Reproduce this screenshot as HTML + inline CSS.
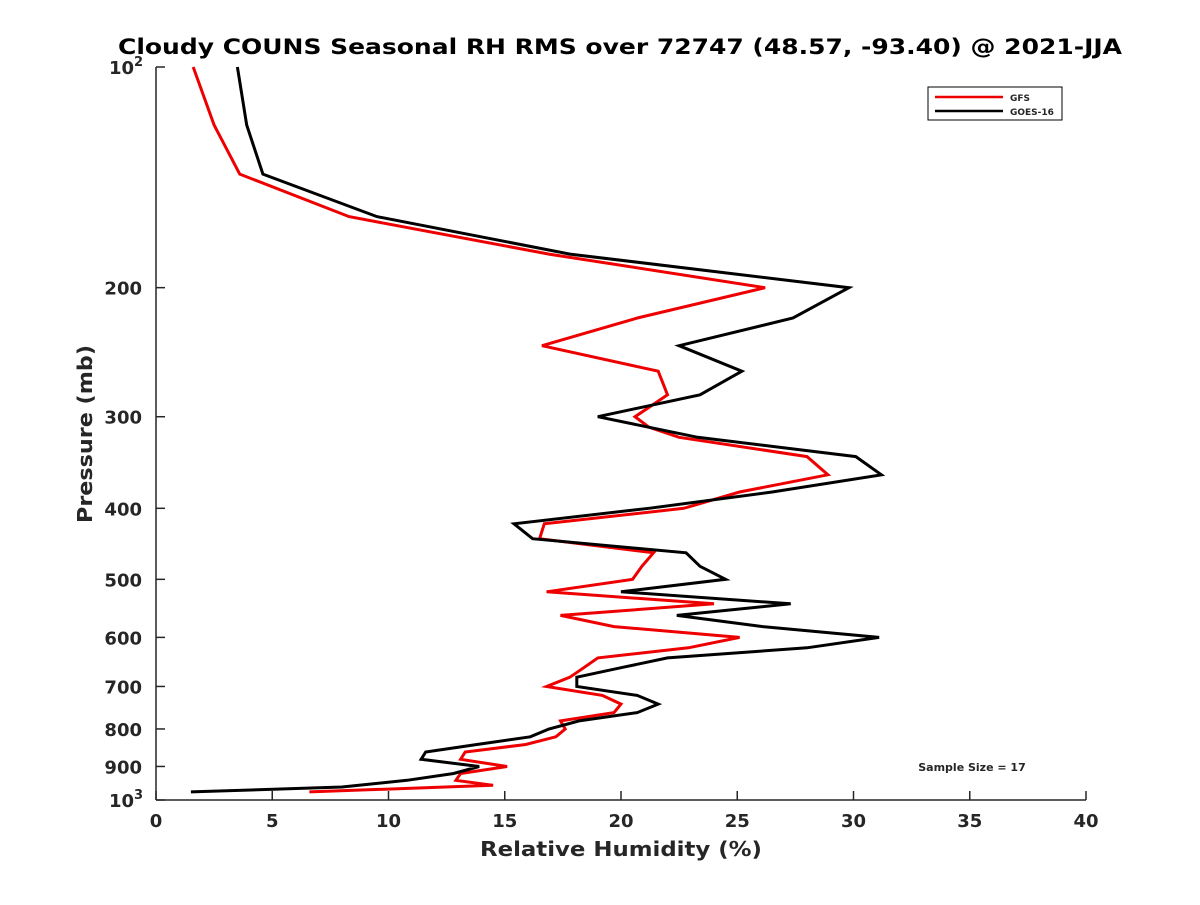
<!DOCTYPE html>
<html><head><meta charset="utf-8"><style>
body{margin:0;background:#fff;}
text{font-family:"DejaVu Sans","Liberation Sans",sans-serif;font-weight:bold;fill:#262626;}
</style></head><body>
<svg id="c" width="1200" height="900" xmlns="http://www.w3.org/2000/svg">
<rect width="1200" height="900" fill="#fff"/>
<text x="620" y="54" font-size="21" text-anchor="middle" textLength="1004" lengthAdjust="spacingAndGlyphs" style="fill:#000">Cloudy COUNS Seasonal RH RMS over 72747 (48.57, -93.40) @ 2021-JJA</text>
<g id="axes"></g>
<g id="series"></g>
<g>
<rect x="928" y="87" width="134" height="33" fill="#fff" stroke="#000" stroke-width="1"/>
<line x1="935" y1="97" x2="1003" y2="97" stroke="#e00" stroke-width="2.5"/>
<text x="1010" y="101" font-size="9">GFS</text>
<line x1="935" y1="111" x2="1003" y2="111" stroke="#000" stroke-width="2.5"/>
<text x="1010" y="115" font-size="9">GOES-16</text>
</g>
<text x="972" y="771" font-size="11" text-anchor="middle">Sample Size = 17</text>
<text x="621" y="856" font-size="20" text-anchor="middle" textLength="282" lengthAdjust="spacingAndGlyphs">Relative Humidity (%)</text>
<text x="0" y="0" font-size="20" text-anchor="middle" textLength="178" lengthAdjust="spacingAndGlyphs" transform="translate(92,434) rotate(-90)">Pressure (mb)</text>
</svg>
<script>
const gfsP=[100,120,140,160,180,200,220,240,260,280,290,300,310,320,340,360,380,400,420,440,460,480,500,520,540,560,580,600,620,640,660,680,700,720,740,760,780,800,820,840,860,880,900,920,940,955,975];
const gfsRH=[1.6,2.5,3.6,8.3,16.9,26.2,20.7,16.6,21.6,22.0,21.3,20.6,21.2,22.5,28.0,28.9,25.1,22.7,16.7,16.5,21.4,20.9,20.5,16.8,24.0,17.4,19.7,25.1,22.9,19.0,18.4,17.8,16.8,19.2,20.0,19.7,17.4,17.6,17.2,15.9,13.3,13.1,15.1,13.1,12.9,14.5,6.6];
const goesP=[100,120,140,160,180,200,220,240,260,280,300,320,340,360,380,400,420,440,460,480,500,520,540,560,580,600,620,640,660,680,700,720,740,760,780,800,820,840,860,880,900,920,940,960,975];
const goesRH=[3.5,3.9,4.6,9.5,17.8,29.8,27.4,22.5,25.2,23.4,19.0,23.3,30.1,31.2,26.5,21.2,15.4,16.2,22.8,23.4,24.5,20.0,27.3,22.4,26.1,31.1,28.0,22.0,20.0,18.1,18.1,20.7,21.6,20.7,18.2,16.9,16.1,13.8,11.6,11.4,13.9,12.8,10.8,8.0,1.5];
const xTicks=[0,5,10,15,20,25,30,35,40];
const yTicks=[100,200,300,400,500,600,700,800,900,1000];
const yLabels=["10","200","300","400","500","600","700","800","900","10"];
const L=156,R=1086,T=67,B=800;
const xs=v=>L+(v-0)/(40-0)*(R-L);
const ys=p=>T+(Math.log10(p)-2)*(B-T);
const NS="http://www.w3.org/2000/svg";
function mk(tag,attrs,parent){const e=document.createElementNS(NS,tag);for(const k in attrs)e.setAttribute(k,attrs[k]);parent.appendChild(e);return e;}
const ax=document.getElementById('axes');
let e=mk('line',{x1:L,y1:T,x2:L,y2:B,stroke:'#262626','stroke-width':1.5},ax);


e=mk('line',{x1:L,y1:B,x2:R,y2:B,stroke:'#262626','stroke-width':1.5},ax);


xTicks.forEach(v=>{
  const x=xs(v);
  mk('line',{x1:x,y1:B,x2:x,y2:B-9,stroke:'#262626','stroke-width':1.5},ax);
  const t=mk('text',{x:x,y:B+27,'font-size':18,'text-anchor':'middle'},ax);
  t.textContent=v;
  
  
});
yTicks.forEach((p,i)=>{
  const y=ys(p);
  mk('line',{x1:L,y1:y,x2:L+9,y2:y,stroke:'#262626','stroke-width':1.5},ax);
  const sup=(p===100)?'2':(p===1000?'3':null);
  const t=mk('text',{x:sup?L-22:L-14,y:y+7,'font-size':18,'text-anchor':'end'},ax);
  t.textContent=yLabels[i];
  
  
  if(sup){
    const s=mk('text',{x:L-13,y:y-1,'font-size':13,'text-anchor':'end'},ax);
    s.textContent=sup;
    
    
  }
});
const sg=document.getElementById('series');
function line(P,V,color,name){
  const d=P.map((p,i)=>(i?'L':'M')+xs(V[i]).toFixed(1)+' '+ys(p).toFixed(1)).join(' ');
  const el=mk('path',{d:d,fill:'none',stroke:color,'stroke-width':3,'stroke-linejoin':'miter'},sg);
  
  
}
line(gfsP,gfsRH,'#e00','gfs-line');
line(goesP,goesRH,'#000','goes16-line');
</script>
</body></html>
